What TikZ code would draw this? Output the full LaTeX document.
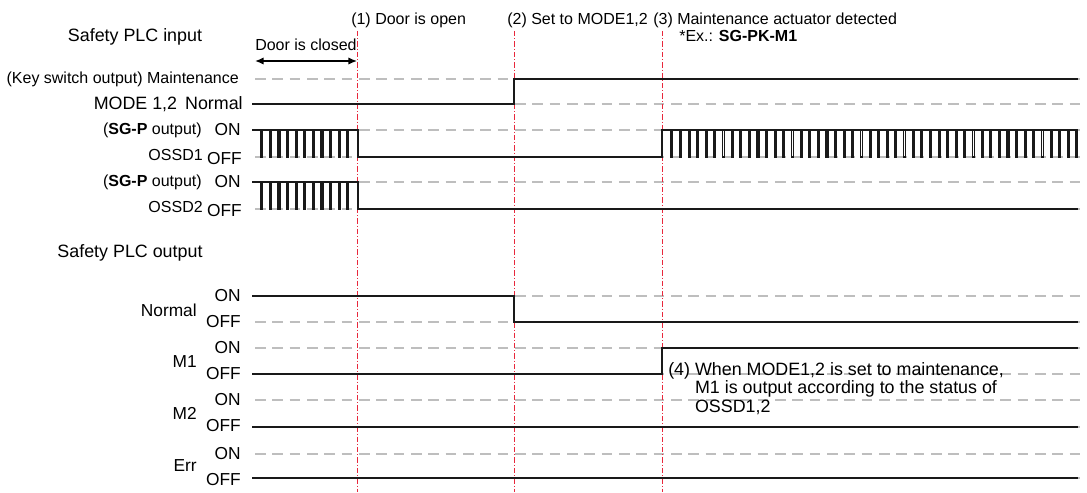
\documentclass[tikz,border=0pt]{standalone}
\usepackage{fontspec}
\setmainfont{Liberation Sans}
\usetikzlibrary{arrows.meta,positioning}
\definecolor{TimingRed}{RGB}{232,40,60}
\definecolor{TimingGrid}{RGB}{190,190,190}
\definecolor{TimingInk}{RGB}{25,25,25}

\begin{document}
\begin{tikzpicture}[x=0.75pt,y=-0.75pt,>={Latex[length=6.5pt,width=5.5pt]},
  level/.style={TimingGrid,line width=0.8pt,dash pattern=on 8pt off 5pt},
  wave/.style={TimingInk,line width=1.1pt},
  event/.style={TimingRed,line width=0.6pt,dash pattern=on 4pt off 1.5pt on 0.8pt off 1.5pt},
  lbl/.style={inner sep=0pt,font=\fontsize{12}{14}\selectfont},
  big/.style={inner sep=0pt,font=\fontsize{13}{15}\selectfont},
  head/.style={inner sep=0pt,font=\fontsize{13.4}{15}\selectfont}]
\useasboundingbox (0,0) rectangle (1087,492);

\foreach \y in {79,104,130,157,182,209,296,322,348,374,400,427,454,478}
  \draw[level] (255,\y) -- (1080,\y);
\foreach \x in {357,514,662}
  \draw[event] (\x,31) -- (\x,492);

\node[head] (inhdr) at (135,37) {Safety PLC input};
\node[head] (outhdr) at (130,253) {Safety PLC output};

\node[lbl,anchor=west] (closed) at (255,45) {Door is closed};
\coordinate (closedL) at (255,61);
\coordinate (closedR) at (357,61);
\draw[<->,line width=1.1pt] (closedL) -- (closedR);

\node[lbl,anchor=west] (ev1) at (351,20) {(1) Door is open};
\node[lbl,anchor=west] (ev2) at (507,20) {(2) Set to MODE1,2};
\node[lbl,anchor=west] (ev3) at (653,20) {(3) Maintenance actuator detected};
\node[lbl,anchor=west] (ev3ex) at (679,36) {*Ex.: \textbf{SG-PK-M1}};

\node[lbl,anchor=east] (keysw) at (239,79) {(Key switch output) Maintenance};
\node[head,anchor=east] (mode) at (243,104) {MODE 1,2\hspace{6pt}Normal};

\node[lbl,anchor=east] (sgp1) at (202,130) {(\textbf{SG-P} output)};
\node[big,anchor=east] (ossd1on) at (241,130) {ON};
\node[lbl,anchor=east] (ossd1) at (203,155) {OSSD1};
\node[big,anchor=east] (ossd1off) at (242,159) {OFF};
\node[lbl,anchor=east] (sgp2) at (202,182) {(\textbf{SG-P} output)};
\node[big,anchor=east] (ossd2on) at (241,182) {ON};
\node[lbl,anchor=east] (ossd2) at (203,207) {OSSD2};
\node[big,anchor=east] (ossd2off) at (242,211) {OFF};

\node[big,anchor=east] (normal) at (197,310) {Normal};
\node[big,anchor=east] (m1) at (197,362) {M1};
\node[big,anchor=east] (m2) at (197,413) {M2};
\node[big,anchor=east] (err) at (197,466) {Err};
\foreach \y/\n in {296/normal,348/m1,400/m2,454/err}{
  \node[big,anchor=east] (\n on) at (241,\y) {ON};
  \node[big,anchor=east] (\n off) at (241,\y+26) {OFF};
}

\draw[wave] (252,104) -- (514,104) -- (514,79) -- (1078,79);

\draw[wave] (252,130) -- (358,130) -- (358,157) -- (662,157) -- (662,130) -- (1078,130);
\foreach \k in {0,...,10}
  \draw[wave] ({261+8.6*\k},130) -- ++(0,27) -- ++(1.6,0) -- ++(0,-27);
\foreach \k in {0,...,47}
  \draw[wave] ({671+8.62*\k},130) -- ++(0,27) -- ++(1.6,0) -- ++(0,-27);

\draw[wave] (252,182) -- (358,182) -- (358,209) -- (1078,209);
\foreach \k in {0,...,10}
  \draw[wave] ({261+8.6*\k},182) -- ++(0,27) -- ++(1.6,0) -- ++(0,-27);

\draw[wave] (252,296) -- (514,296) -- (514,322) -- (1078,322);
\draw[wave] (252,374) -- (662,374) -- (662,348) -- (1078,348);
\draw[wave] (252,427) -- (1078,427);
\draw[wave] (252,478) -- (1078,478);

\node[inner sep=0pt,anchor=base west] (note4) at (668,375.5)
  {\fontsize{13.4}{13.6}\selectfont\begin{tabular}[t]{@{}l@{ }l@{}}
   (4) & When MODE1,2 is set to maintenance,\\
       & M1 is output according to the status of\\
       & OSSD1,2
  \end{tabular}};
\end{tikzpicture}
\end{document}
